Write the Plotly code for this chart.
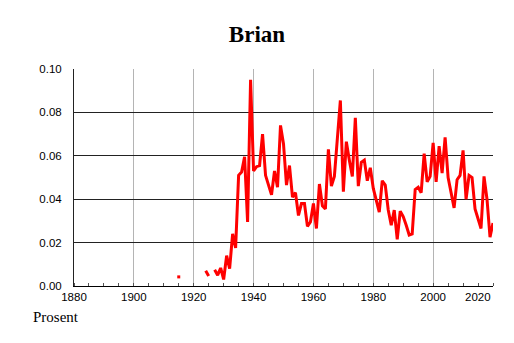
import plotly.graph_objects as go

# Isolated early observation
dot_years = [1915]
dot_values = [0.0042]

# Main series (None = missing year)
years = list(range(1924, 2021))
values = [
    0.0070, 0.0046, None, 0.0075, 0.0050, 0.0083, 0.0030, 0.0140, 0.0080, 0.0240,  # 1924-1933
    0.0175, 0.0510, 0.0525, 0.0595, 0.0295, 0.0950, 0.0530, 0.0550, 0.0555, 0.0700,  # 1934-1943
    0.0510, 0.0465, 0.0420, 0.0530, 0.0455, 0.0740, 0.0655, 0.0465, 0.0555, 0.0410,  # 1944-1953
    0.0430, 0.0325, 0.0380, 0.0380, 0.0275, 0.0295, 0.0380, 0.0265, 0.0470, 0.0370,  # 1954-1963
    0.0355, 0.0630, 0.0460, 0.0505, 0.0680, 0.0855, 0.0435, 0.0665, 0.0580, 0.0505,  # 1964-1973
    0.0775, 0.0460, 0.0570, 0.0580, 0.0485, 0.0545, 0.0450, 0.0395, 0.0340, 0.0485,  # 1974-1983
    0.0465, 0.0350, 0.0280, 0.0350, 0.0215, 0.0345, 0.0320, 0.0280, 0.0235, 0.0240,  # 1984-1993
    0.0445, 0.0455, 0.0430, 0.0610, 0.0480, 0.0505, 0.0660, 0.0480, 0.0645, 0.0520,  # 1994-2003
    0.0685, 0.0500, 0.0430, 0.0360, 0.0490, 0.0510, 0.0625, 0.0400, 0.0510, 0.0500,  # 2004-2013
    0.0355, 0.0305, 0.0265, 0.0505, 0.0400, 0.0225, 0.0290,                          # 2014-2020
]

x_tickvals = [1880, 1900, 1920, 1940, 1960, 1980, 2000, 2020]
x_ticktext = ["1880", "1900", "1920", "1940", "1960", "1980", "2000", ""]
last_tick_label = "2020"
y_tickvals = [0.00, 0.02, 0.04, 0.06, 0.08, 0.10]
y_ticktext = ["0.00", "0.02", "0.04", "0.06", "0.08", "0.10"]

fig = go.Figure()
fig.add_trace(go.Scatter(
    x=years, y=values, mode="lines", connectgaps=False,
    line=dict(color="#ff0000", width=3), hoverinfo="x+y", showlegend=False))
fig.add_trace(go.Scatter(
    x=dot_years, y=dot_values, mode="markers",
    marker=dict(color="#ff0000", size=3, symbol="square"), showlegend=False))

fig.update_layout(
    width=506, height=335,
    margin=dict(l=66, r=21, t=61, b=57),
    paper_bgcolor="white", plot_bgcolor="white",
    title=dict(text="<b>Brian</b>", x=0.492, xanchor="center", y=0.922, yanchor="middle",
               font=dict(family="Liberation Serif", size=23, color="black")),
    font=dict(family="Liberation Sans", size=11.5, color="black"),
    showlegend=False,
)
fig.update_xaxes(
    range=[1880, 2020], tickvals=x_tickvals, ticktext=x_ticktext,
    showgrid=True, gridcolor="#b4b4b4", gridwidth=1,
    showline=True, linecolor="black", linewidth=1,
    ticks="",
    minor=dict(dtick=5, tick0=1880, ticks="inside", ticklen=3, tickcolor="#555", showgrid=False),
    zeroline=False, tickfont=dict(size=11.5),
)
fig.update_yaxes(
    range=[0, 0.1], tickvals=y_tickvals, ticktext=y_ticktext,
    showgrid=True, gridcolor="#222222", gridwidth=1,
    showline=True, linecolor="#222222", linewidth=1,
    ticks="outside", ticklen=9, tickcolor="rgba(0,0,0,0)",
    zeroline=False, tickfont=dict(size=11.5),
)
fig.add_annotation(
    text=last_tick_label, xref="x", yref="paper", x=x_tickvals[-1], y=-0.05,
    xanchor="right", yanchor="middle", showarrow=False,
    font=dict(family="Liberation Sans", size=11.5, color="black"))
fig.add_annotation(
    text="Prosent", xref="paper", yref="paper", x=-0.1026, y=-0.143,
    xanchor="left", yanchor="middle", showarrow=False,
    font=dict(family="Liberation Serif", size=15, color="black"))

fig.write_html("out.html")
